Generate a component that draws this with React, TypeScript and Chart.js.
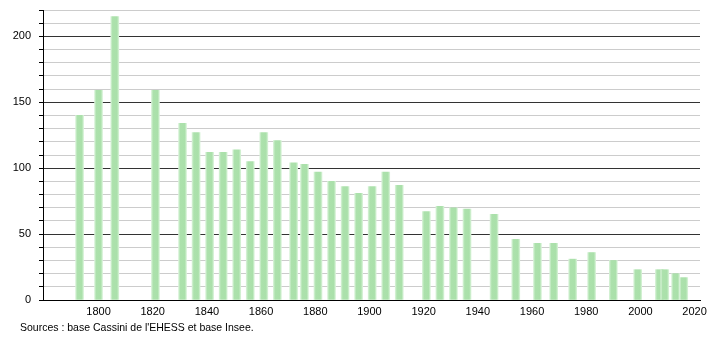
import React, { useEffect, useRef } from "react";
import { Chart, registerables } from "chart.js";

Chart.register(...registerables);

const years = [
  1793, 1800, 1806, 1821, 1831, 1836, 1841, 1846, 1851, 1856, 1861, 1866, 1872, 1876,
  1881, 1886, 1891, 1896, 1901, 1906, 1911, 1921, 1926, 1931, 1936, 1946, 1954, 1962,
  1968, 1975, 1982, 1990, 1999, 2007, 2009, 2013, 2016,
];
const population = [
  140, 159, 215, 159, 134, 127, 112, 112, 114, 105, 127, 121, 104, 103,
  97, 90, 86, 81, 86, 97, 87, 67, 71, 70, 69, 65, 46, 43,
  43, 31, 36, 30, 23, 23, 23, 20, 17,
];
const xTickValues = [1800, 1820, 1840, 1860, 1880, 1900, 1920, 1940, 1960, 1980, 2000, 2020];
const sourceText = "Sources : base Cassini de l'EHESS et base Insee.";

const FONT = "'Liberation Sans', Arial, sans-serif";

export default function App() {
  const ref = useRef<HTMLCanvasElement | null>(null);

  useEffect(() => {
    const canvas = ref.current;
    if (!canvas) return;
    const chart = new Chart(canvas, {
      type: "bar",
      data: {
        datasets: [
          {
            data: years.map((y, i) => ({ x: y, y: population[i] })),
            barThickness: 8,
            backgroundColor: (ctx: any) => {
              const ch = ctx.chart;
              const xs = ch.scales && ch.scales.x;
              const fallback = "rgb(172,225,172)";
              if (!xs || !ctx.raw) return fallback;
              const px = xs.getPixelForValue(ctx.raw.x);
              if (!Number.isFinite(px)) return fallback;
              const g = ch.ctx.createLinearGradient(px - 4, 0, px + 4, 0);
              g.addColorStop(0, "rgb(214,242,214)");
              g.addColorStop(0.22, "rgb(172,225,172)");
              g.addColorStop(0.78, "rgb(170,224,170)");
              g.addColorStop(1, "rgb(214,242,214)");
              return g;
            },
            borderWidth: 0,
          },
        ],
      },
      options: {
        animation: false,
        responsive: false,
        maintainAspectRatio: false,
        layout: { padding: { left: 0, right: 10, top: 10, bottom: 0 } },
        plugins: {
          legend: { display: false },
          tooltip: { enabled: false },
          title: { display: false },
        },
        scales: {
          x: {
            type: "linear",
            offset: false,
            min: 1779.5,
            max: 2022,
            afterFit: (s: any) => {
              s.height = 40;
              s.paddingLeft = 0;
              s.paddingRight = 0;
            },
            afterBuildTicks: (s: any) => {
              s.ticks = xTickValues.map((v) => ({ value: v }));
            },
            grid: { display: false, drawTicks: false, offset: false },
            border: { display: true, color: "#000", width: 1 },
            ticks: {
              padding: 5,
              color: "#000",
              font: { family: FONT, size: 11 },
              maxRotation: 0,
              autoSkip: false,
              callback: (v: any) => String(v),
            },
          },
          y: {
            min: 0,
            max: 220,
            afterFit: (s: any) => {
              s.width = 43;
              s.paddingTop = 0;
              s.paddingBottom = 0;
            },
            grid: {
              color: (c: any) => (c.tick && c.tick.value % 50 === 0 ? "#333" : "#cccccc"),
              tickColor: "#000",
              tickLength: 4,
              lineWidth: 1,
            },
            border: { display: true, color: "#000", width: 1 },
            ticks: {
              stepSize: 10,
              padding: 8,
              color: "#000",
              font: { family: FONT, size: 11 },
              autoSkip: false,
              callback: (v: any) => (Number(v) % 50 === 0 ? String(v) : ""),
            },
          },
        },
      },
    });
    return () => chart.destroy();
  }, []);

  return (
    <div style={{ position: "absolute", left: 0, top: 0, width: 710, height: 340, background: "#fff" }}>
      <canvas ref={ref} width={710} height={340} style={{ position: "absolute", left: 0, top: 0 }} />
      <div
        style={{
          position: "absolute",
          left: 20,
          top: 321,
          fontFamily: FONT,
          fontSize: 10.5,
          color: "#000",
          whiteSpace: "nowrap",
        }}
      >
        {sourceText}
      </div>
    </div>
  );
}
